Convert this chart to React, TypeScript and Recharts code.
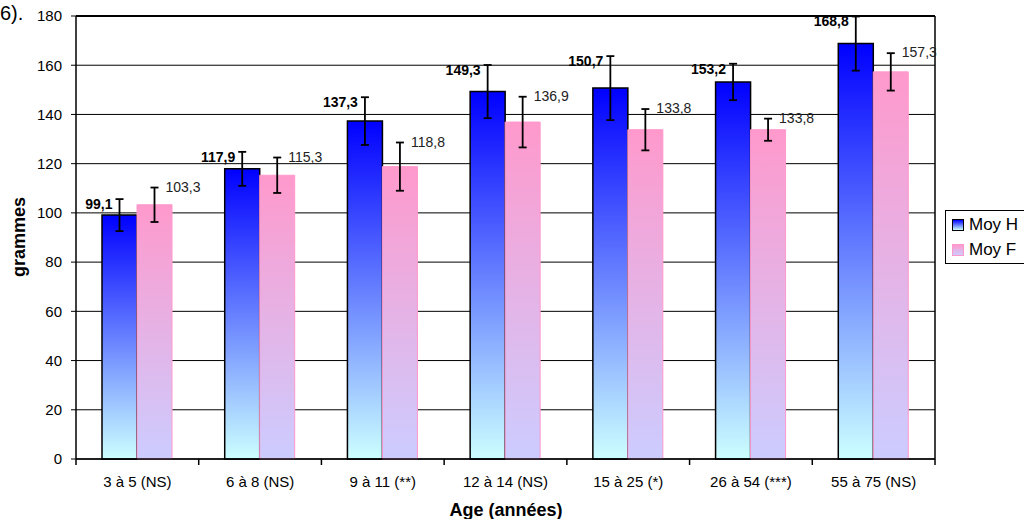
import {
  Bar,
  BarChart,
  CartesianGrid,
  Customized,
  ErrorBar,
  LabelList,
  ReferenceLine,
  XAxis,
  YAxis,
} from "recharts";

const CATEGORIES = [
  "3 à 5 (NS)",
  "6 à 8 (NS)",
  "9 à 11 (**)",
  "12 à 14 (NS)",
  "15 à 25 (*)",
  "26 à 54 (***)",
  "55 à 75 (NS)",
];
const MOY_H = [99.1, 117.9, 137.3, 149.3, 150.7, 153.2, 168.8];
const MOY_F = [103.3, 115.3, 118.8, 136.9, 133.8, 133.8, 157.3];
const ERR_H = [6.5, 6.9, 9.7, 10.8, 13, 7.4, 11];
const ERR_F = [7, 7.2, 9.8, 10.3, 8.4, 4.5, 7.6];
const Y_TICKS = [0, 20, 40, 60, 80, 100, 120, 140, 160, 180];
const SERIES = [
  { label: "Moy H", grad: "linear-gradient(#0000ff, #ccffff)", border: "#000" },
  { label: "Moy F", grad: "linear-gradient(#ff99cc, #ccccff)", border: "#ff99cc" },
];

const data = CATEGORIES.map((name, i) => ({
  name,
  h: MOY_H[i],
  f: MOY_F[i],
  errH: ERR_H[i],
  errF: ERR_F[i],
}));

const W = 1024;
const H = 519;
const M = { top: 16, right: 88, bottom: 20, left: 0 };
const Y_AXIS_W = 76;
const BAND = (W - M.left - M.right - Y_AXIS_W - 1) / CATEGORIES.length;
const FONT = "'Liberation Sans', Arial, sans-serif";

const fmt = (v: number) => v.toFixed(1).replace(".", ",");

function capY(props: any, err: number) {
  const vb = props.viewBox ?? props;
  const { y, height } = vb;
  const v = Number(props.value);
  return y + height - ((v + err) * height) / v;
}

const HLabel = (props: any) => {
  const vb = props.viewBox ?? props;
  const cy = capY(props, ERR_H[props.index]);
  return (
    <text
      x={vb.x + vb.width / 2 - 7}
      y={cy + 5}
      textAnchor="end"
      dominantBaseline="central"
      fontSize={14}
      fontWeight="bold"
      fill="#000"
      fontFamily={FONT}
    >
      {fmt(Number(props.value))}
    </text>
  );
};

const FLabel = (props: any) => {
  const vb = props.viewBox ?? props;
  const cy = capY(props, ERR_F[props.index]);
  return (
    <text
      x={vb.x + vb.width / 2 + 11}
      y={cy - 1}
      textAnchor="start"
      dominantBaseline="central"
      fontSize={14}
      fill="#222"
      fontFamily={FONT}
    >
      {fmt(Number(props.value))}
    </text>
  );
};

const XTick = (props: any) => {
  const { x, y, payload, index } = props;
  const half = BAND / 2;
  return (
    <g>
      <line x1={x - half} x2={x - half} y1={y} y2={y + 6} stroke="#000" strokeWidth={1.5} />
      {index === CATEGORIES.length - 1 && (
        <line x1={x + half} x2={x + half} y1={y} y2={y + 6} stroke="#000" strokeWidth={1.5} />
      )}
      <text x={x} y={y + 28} textAnchor="middle" fontSize={15} fill="#000" fontFamily={FONT}>
        {payload.value}
      </text>
    </g>
  );
};

const Titles = () => (
  <g fontFamily={FONT} fill="#000">
    <text x={0} y={20} fontSize={20}>
      6).
    </text>
    <text
      x={25}
      y={237}
      transform="rotate(-90 25 237)"
      textAnchor="middle"
      fontSize={18}
      fontWeight="bold"
    >
      grammes
    </text>
    <text x={506} y={516} textAnchor="middle" fontSize={18} fontWeight="bold">
      Age (années)
    </text>
  </g>
);

const LegendBox = () => (
  <div
    style={{
      position: "absolute",
      left: 945,
      top: 210,
      width: 120,
      border: "1px solid #000",
      background: "#fff",
      padding: "1px 6px",
      fontFamily: FONT,
      fontSize: 17,
      lineHeight: "25px",
    }}
  >
    {SERIES.map((it) => (
      <div key={it.label} style={{ display: "flex", alignItems: "center" }}>
        <span
          style={{
            display: "inline-block",
            width: 10,
            height: 10,
            background: it.grad,
            border: `1px solid ${it.border}`,
            marginRight: 5,
          }}
        />
        {it.label}
      </div>
    ))}
  </div>
);

export default function App() {
  return (
    <div
      style={{
        position: "absolute",
        left: 0,
        top: 0,
        width: W,
        height: H,
        overflow: "hidden",
        background: "#fff",
      }}
    >
      <BarChart
        width={W}
        height={H}
        data={data}
        margin={M}
        barSize={35}
        barGap={0}
        style={{ fontFamily: FONT }}
      >
        <defs>
          <linearGradient id="gradH" x1="0" y1="0" x2="0" y2="1">
            <stop offset="0%" stopColor="#0000ff" />
            <stop offset="100%" stopColor="#ccffff" />
          </linearGradient>
          <linearGradient id="gradF" x1="0" y1="0" x2="0" y2="1">
            <stop offset="0%" stopColor="#ff99cc" />
            <stop offset="100%" stopColor="#ccccff" />
          </linearGradient>
        </defs>
        <CartesianGrid vertical={false} stroke="#000" strokeWidth={1} />
        <XAxis
          dataKey="name"
          height={40}
          tickLine={false}
          tickSize={0}
          tickMargin={0}
          axisLine={{ stroke: "#000", strokeWidth: 1.5 }}
          tick={<XTick />}
          interval={0}
        />
        <YAxis
          width={Y_AXIS_W}
          domain={[0, 180]}
          ticks={Y_TICKS}
          interval={0}
          tickSize={5}
          tickMargin={9}
          tick={{ fontSize: 15, fill: "#000", fontFamily: FONT }}
          tickLine={{ stroke: "#000", strokeWidth: 1 }}
          axisLine={{ stroke: "#000", strokeWidth: 1.5 }}
        />
        <YAxis
          yAxisId="right"
          orientation="right"
          width={1}
          domain={[0, 180]}
          tick={false}
          tickLine={false}
          axisLine={{ stroke: "#000", strokeWidth: 1.5 }}
        />
        <ReferenceLine y={180} stroke="#000" strokeWidth={2} />
        <Bar
          dataKey="h"
          name="Moy H"
          fill="url(#gradH)"
          stroke="#000"
          strokeWidth={1.5}
          isAnimationActive={false}
        >
          <ErrorBar dataKey="errH" width={4} stroke="#000" strokeWidth={1.8} direction="y" />
          <LabelList dataKey="h" content={<HLabel />} />
        </Bar>
        <Bar
          dataKey="f"
          name="Moy F"
          fill="url(#gradF)"
          stroke="#ff99cc"
          strokeWidth={1}
          isAnimationActive={false}
        >
          <ErrorBar dataKey="errF" width={4} stroke="#000" strokeWidth={1.8} direction="y" />
          <LabelList dataKey="f" content={<FLabel />} />
        </Bar>
        <Customized component={<Titles />} />
      </BarChart>
      <LegendBox />
    </div>
  );
}
